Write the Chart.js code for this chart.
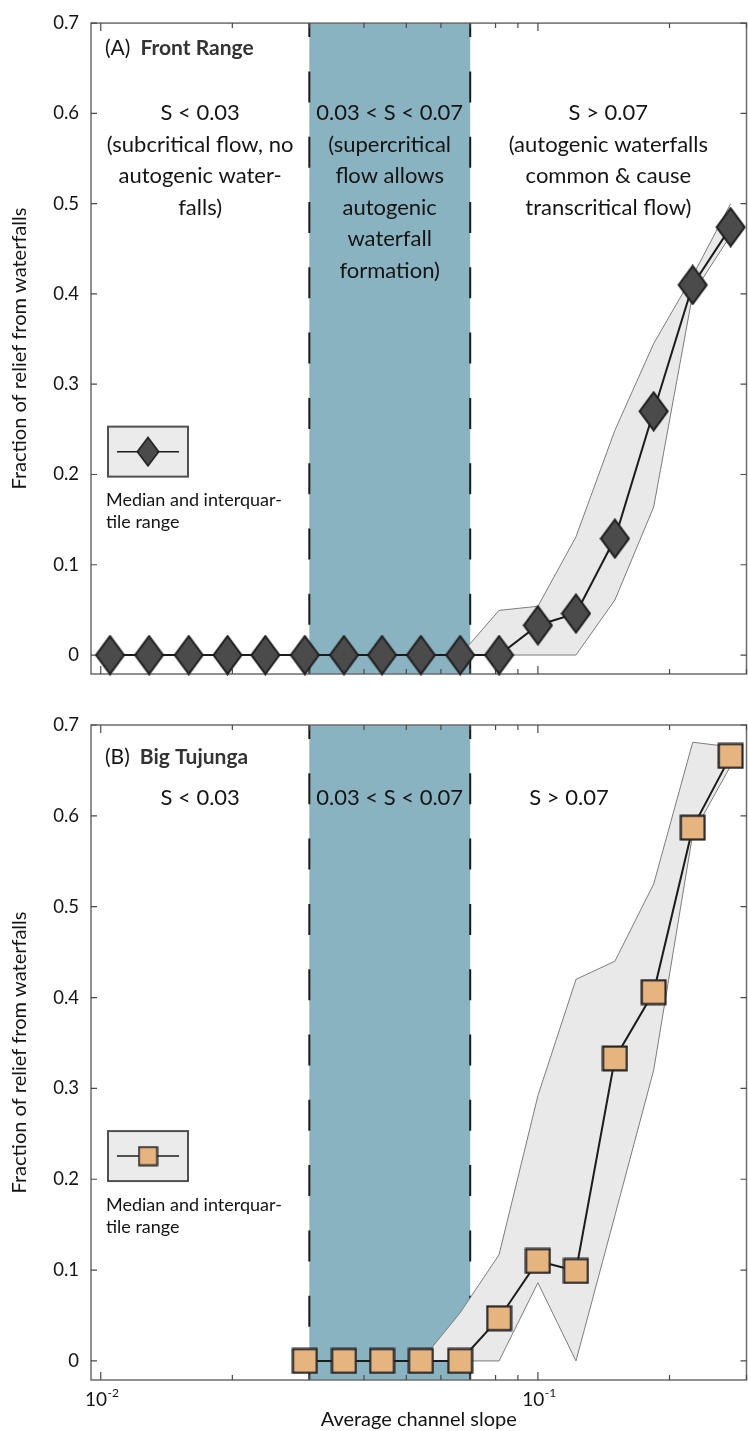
<!DOCTYPE html>
<html>
<head>
<meta charset="utf-8">
<script src="https://cdn.jsdelivr.net/npm/chart.js@4.4.1/dist/chart.umd.min.js"></script>
<style>
  html, body { margin: 0; padding: 0; background: #fff; }
  #wrap { position: relative; width: 748px; height: 1431px; }
  .panel { position: absolute; left: 0; width: 748px; }
  canvas { display: block; }
</style>
</head>
<body>
<div id="wrap">
  <div class="panel" style="top:0;height:700px"><canvas id="chartA" width="748" height="700"></canvas></div>
  <div class="panel" style="top:700px;height:731px"><canvas id="chartB" width="748" height="731"></canvas></div>
</div>
<script>
// ---- data ----
const frontSlopes   = [0.0105, 0.0129, 0.0159, 0.0195, 0.0238, 0.0293, 0.0360, 0.0440, 0.0540, 0.0664, 0.0815, 0.100, 0.1222, 0.150, 0.184, 0.226, 0.276];
const frontMedian   = [0, 0, 0, 0, 0, 0, 0, 0, 0, 0, 0, 0.033, 0.046, 0.129, 0.270, 0.410, 0.474];
const frontQ1       = [0, 0, 0, 0, 0, 0, 0, 0, 0, 0, 0, 0, 0, 0.061, 0.164, 0.400, 0.465];
const frontQ3       = [0, 0, 0, 0, 0, 0, 0, 0, 0, 0, 0.0495, 0.054, 0.131, 0.249, 0.345, 0.420, 0.500];

const tujungaSlopes = [0.0293, 0.0360, 0.0440, 0.0540, 0.0664, 0.0815, 0.100, 0.1222, 0.150, 0.184, 0.226, 0.276];
const tujungaMedian = [0, 0, 0, 0, 0, 0.047, 0.110, 0.099, 0.333, 0.406, 0.587, 0.666];
const tujungaQ1     = [0, 0, 0, 0, 0, 0, 0.086, 0, 0.160, 0.320, 0.580, 0.655];
const tujungaQ3     = [0, 0, 0, 0, 0.053, 0.117, 0.292, 0.420, 0.440, 0.525, 0.681, 0.676];

const regimeBounds  = [0.03, 0.07];
const yTickValues   = [0, 0.1, 0.2, 0.3, 0.4, 0.5, 0.6, 0.7];
const xMajorTicks   = [0.01, 0.1];
const xMajorLabels  = [['10', '-2'], ['10', '-1']];
const xMinorTicks   = [0.02, 0.03, 0.04, 0.05, 0.06, 0.07, 0.08, 0.09, 0.2, 0.3];

const frontRegimeText = [
  ['S < 0.03', '(subcritical flow, no', 'autogenic water-', 'falls)'],
  ['0.03 < S < 0.07', '(supercritical', 'flow allows', 'autogenic', 'waterfall', 'formation)'],
  ['S > 0.07', '(autogenic waterfalls', 'common & cause', 'transcritical flow)']
];
const tujungaRegimeText = [['S < 0.03'], ['0.03 < S < 0.07'], ['S > 0.07']];
const legendText = ['Median and interquar-', 'tile range'];

// ---- styling ----
const FONT = 'Lato, "Open Sans", "DejaVu Sans", sans-serif';
const INK = '#141414';

function makeDiamond(w, h, fill, stroke, lw) {
  const c = document.createElement('canvas');
  c.width = w; c.height = h;
  const g = c.getContext('2d');
  const p = lw / 2 + 0.5;
  g.beginPath();
  g.moveTo(w / 2, p); g.lineTo(w - p, h / 2); g.lineTo(w / 2, h - p); g.lineTo(p, h / 2);
  g.closePath();
  g.fillStyle = fill; g.fill();
  g.lineWidth = lw; g.strokeStyle = stroke; g.lineJoin = 'miter'; g.stroke();
  return c;
}
function makeSquare(s, fill, stroke, lw) {
  const c = document.createElement('canvas');
  c.width = s; c.height = s;
  const g = c.getContext('2d');
  const p = lw / 2 + 0.5;
  g.fillStyle = fill; g.fillRect(p, p, s - 2 * p, s - 2 * p);
  g.lineWidth = lw; g.strokeStyle = stroke; g.strokeRect(p, p, s - 2 * p, s - 2 * p);
  return c;
}

const diamondMarker = makeDiamond(31, 41, '#4b4b4b', '#1d1d1d', 2);
const diamondSmall  = makeDiamond(24, 31, '#4b4b4b', '#1d1d1d', 1.5);
const squareMarker  = makeSquare(27, '#e6b47e', '#242424', 2.2);
const squareSmall   = makeSquare(21, '#e6b47e', '#242424', 1.8);

// Background: regime band, dashed bounds, frame and inward ticks
const backdrop = {
  id: 'backdrop',
  beforeDraw(chart) {
    const { ctx, chartArea: a, scales: { x, y } } = chart;
    ctx.save();
    const x0 = x.getPixelForValue(regimeBounds[0]);
    const x1 = x.getPixelForValue(regimeBounds[1]);
    ctx.fillStyle = '#8ab3c1';
    ctx.fillRect(x0, a.top, x1 - x0, a.bottom - a.top);

    ctx.setLineDash([31, 34.3]);
    ctx.lineDashOffset = 17;
    ctx.strokeStyle = '#1a1a1a';
    ctx.lineWidth = 2;
    for (const xv of [x0, x1]) {
      ctx.beginPath(); ctx.moveTo(xv, a.top); ctx.lineTo(xv, a.bottom); ctx.stroke();
    }
    ctx.setLineDash([]);

    ctx.strokeStyle = '#6c6c6c';
    ctx.lineWidth = 1.5;
    ctx.strokeRect(a.left, a.top, a.right - a.left, a.bottom - a.top);

    ctx.lineWidth = 1.2;
    ctx.strokeStyle = '#4a4a4a';
    const tick = (v, len) => {
      const px = x.getPixelForValue(v);
      ctx.beginPath();
      ctx.moveTo(px, a.bottom); ctx.lineTo(px, a.bottom - len);
      ctx.moveTo(px, a.top); ctx.lineTo(px, a.top + len);
      ctx.stroke();
    };
    xMajorTicks.forEach(v => tick(v, 8));
    xMinorTicks.forEach(v => tick(v, 5));
    yTickValues.forEach(v => {
      const py = y.getPixelForValue(v);
      ctx.beginPath();
      ctx.moveTo(a.left, py); ctx.lineTo(a.left + 6, py);
      ctx.moveTo(a.right, py); ctx.lineTo(a.right - 6, py);
      ctx.stroke();
    });
    ctx.restore();
  }
};

// Foreground text: panel title, regime notes, legend, x labels
const annotations = {
  id: 'annotations',
  afterDraw(chart, args, o) {
    const { ctx, chartArea: a, scales: { x, y } } = chart;
    ctx.save();
    ctx.fillStyle = INK;
    ctx.textBaseline = 'middle';

    // panel tag + bold site name
    ctx.textAlign = 'left';
    ctx.font = `21px ${FONT}`;
    const tx = a.left + 14, ty = a.top + o.tagDy;
    ctx.fillText(o.tag, tx, ty);
    const tw = ctx.measureText(o.tag).width;
    ctx.font = `bold 21px ${FONT}`;
    ctx.fillStyle = '#333';
    ctx.fillText(o.site, tx + tw + 10, ty);
    ctx.fillStyle = INK;

    // regime notes
    ctx.textAlign = 'center';
    ctx.font = `22px ${FONT}`;
    o.regimeText.forEach((lines, i) => {
      const cx = x.getPixelForValue(o.regimeAnchors[i]);
      lines.forEach((s, k) => ctx.fillText(s, cx, a.top + o.noteDy + k * 31.5));
    });

    // legend
    const bx = a.left + 17, by = y.getPixelForValue(0.253), bw = 80, bh = 50;
    ctx.fillStyle = '#ebebeb';
    ctx.fillRect(bx, by, bw, bh);
    ctx.strokeStyle = '#505050';
    ctx.lineWidth = 2;
    ctx.strokeRect(bx, by, bw, bh);
    ctx.strokeStyle = '#1c1c1c';
    ctx.lineWidth = 1.5;
    ctx.beginPath(); ctx.moveTo(bx + 9, by + bh / 2); ctx.lineTo(bx + 71, by + bh / 2); ctx.stroke();
    const m = o.legendMarker;
    ctx.drawImage(m, bx + bw / 2 - m.width / 2, by + bh / 2 - m.height / 2);
    ctx.fillStyle = INK;
    ctx.textAlign = 'left';
    ctx.font = `18px ${FONT}`;
    ctx.fillText(legendText[0], a.left + 15, by + 74);
    ctx.fillText(legendText[1], a.left + 15, by + 96);

    // x axis labels (bottom panel only)
    if (o.xLabels) {
      xMajorTicks.forEach((v, i) => {
        const px = x.getPixelForValue(v);
        const [base, exp] = xMajorLabels[i];
        ctx.font = `19px ${FONT}`;
        const bw1 = ctx.measureText(base).width;
        ctx.font = `12px ${FONT}`;
        const ew = ctx.measureText(exp).width;
        const left = px - (bw1 + ew) / 2 + 1;
        ctx.textAlign = 'left';
        ctx.font = `19px ${FONT}`;
        ctx.fillText(base, left, a.bottom + 20);
        ctx.font = `12px ${FONT}`;
        ctx.fillText(exp, left + bw1 + 0.5, a.bottom + 13);
      });
      ctx.textAlign = 'center';
      ctx.font = `20px ${FONT}`;
      ctx.fillText('Average channel slope', (a.left + a.right) / 2, a.bottom + 40);
    }
    ctx.restore();
  }
};

function panel(id, d) {
  const pts = arr => arr.map((v, i) => ({ x: d.slopes[i], y: v }));
  return new Chart(document.getElementById(id), {
    type: 'line',
    data: {
      datasets: [
        { label: 'Median', data: pts(d.median), order: 0, borderColor: '#1c1c1c', borderWidth: 2,
          pointStyle: d.marker, pointRadius: 1, pointHoverRadius: 1, pointBorderWidth: 0,
          fill: false, clip: false, tension: 0 },
        { label: 'Q3', data: pts(d.q3), order: 1, borderColor: '#7c7c7c', borderWidth: 1,
          pointRadius: 0, fill: '+1', backgroundColor: '#e9e9e9', tension: 0 },
        { label: 'Q1', data: pts(d.q1), order: 2, borderColor: '#7c7c7c', borderWidth: 1,
          pointRadius: 0, fill: false, tension: 0 }
      ]
    },
    options: {
      responsive: false,
      animation: false,
      events: [],
      devicePixelRatio: 1,
      layout: { padding: { left: 0, right: 1.5, top: d.padTop, bottom: d.padBottom } },
      plugins: {
        legend: { display: false },
        tooltip: { enabled: false },
        filler: { drawTime: 'beforeDatasetsDraw' },
        annotations: d.notes
      },
      scales: {
        x: {
          type: 'logarithmic', min: 0.0095, max: 0.3, position: 'bottom',
          grid: { display: false, drawTicks: false }, border: { display: false },
          ticks: { display: false },
          afterBuildTicks: s => { s.ticks = xMajorTicks.map(v => ({ value: v })); },
          afterFit: s => { s.height = d.xHeight; }
        },
        y: {
          type: 'linear', min: -0.021, max: 0.7,
          grid: { display: false, drawTicks: false }, border: { display: false },
          afterBuildTicks: s => { s.ticks = yTickValues.map(v => ({ value: v })); },
          ticks: { color: INK, padding: 12, font: { family: FONT, size: 18.5 },
                   callback: v => (v === 0 ? '0' : v.toFixed(1)) },
          title: { display: true, text: 'Fraction of relief from waterfalls', color: INK,
                   font: { family: FONT, size: 20 }, padding: { top: 8, bottom: 0 } },
          afterFit: s => { s.width = 91; }
        }
      }
    },
    plugins: [backdrop, annotations]
  });
}

panel('chartA', {
  slopes: frontSlopes, median: frontMedian, q1: frontQ1, q3: frontQ3,
  marker: diamondMarker, padTop: 21, padBottom: 26, xHeight: 0,
  notes: { tag: '(A)', site: 'Front Range', tagDy: 25.5, noteDy: 90,
           regimeText: frontRegimeText, regimeAnchors: [0.01688, 0.0458, 0.1449],
           legendMarker: diamondSmall, xLabels: false }
});

panel('chartB', {
  slopes: tujungaSlopes, median: tujungaMedian, q1: tujungaQ1, q3: tujungaQ3,
  marker: squareMarker, padTop: 25, padBottom: 0, xHeight: 51,
  notes: { tag: '(B)', site: 'Big Tujunga', tagDy: 32, noteDy: 73,
           regimeText: tujungaRegimeText, regimeAnchors: [0.01688, 0.0458, 0.1178],
           legendMarker: squareSmall, xLabels: true }
});
</script>
</body>
</html>
